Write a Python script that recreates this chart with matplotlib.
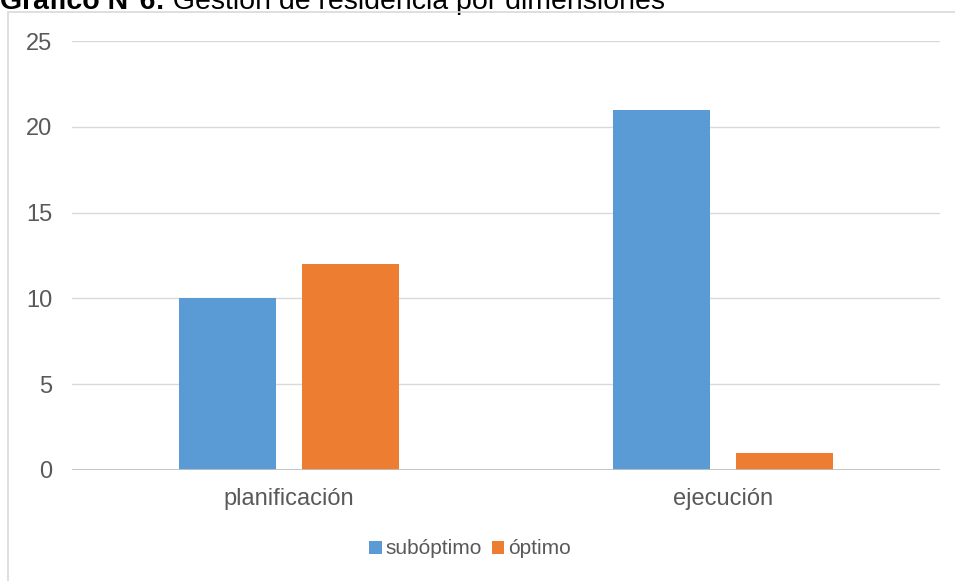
import matplotlib
matplotlib.use("Agg")
import matplotlib.pyplot as plt
from matplotlib.patches import Rectangle
import numpy as np

categories = ["planificación", "ejecución"]
series_names = ["subóptimo", "óptimo"]
suboptimo = [10, 21]
optimo = [12, 1]
y_ticks = [0, 5, 10, 15, 20, 25]

colors = ["#5B9BD5", "#ED7D31"]
text_grey = "#595959"

plt.rcParams["font.family"] = ["Liberation Sans", "DejaVu Sans"]

W, H = 955, 581
fig = plt.figure(figsize=(W / 100, H / 100), dpi=100)
fig.patch.set_facecolor("white")

# outer chart frame
frame = Rectangle((8 / W, -0.05), 1.2, (H - 12) / H + 0.05, transform=fig.transFigure,
                  fill=False, edgecolor="#d9d9d9", linewidth=1.2, zorder=0)
fig.patches.append(frame)

ax = fig.add_axes([72 / W, (H - 470) / H, (940 - 72) / W, (470 - 41) / H])
x = np.arange(len(categories))
width = 0.2235
gap = 0.06
off = width / 2 + gap / 2
ax.bar(x - off, suboptimo, width, color=colors[0], label=series_names[0], zorder=3)
ax.bar(x + off, optimo, width, color=colors[1], label=series_names[1], zorder=3)

ax.set_xlim(-0.5, 1.5)
ax.set_ylim(0, 25)
ax.set_yticks(y_ticks)
ax.set_yticklabels([str(v) for v in y_ticks])
ax.set_xticks(x)
ax.set_xticklabels(categories)
for s in ax.spines.values():
    s.set_visible(False)
ax.tick_params(axis="both", length=0, labelsize=17, labelcolor=text_grey)
ax.tick_params(axis="y", pad=14)
ax.tick_params(axis="x", pad=13)
for v in y_ticks[1:]:
    ax.axhline(v, color="#d9d9d9", linewidth=1, zorder=1)
ax.axhline(0, color="#bfbfbf", linewidth=1.3, zorder=4)

leg = ax.legend(loc="center", bbox_to_anchor=(470 / W, (H - 549) / H),
                bbox_transform=fig.transFigure, ncol=2, frameon=False,
                fontsize=15, handlelength=0.6, handleheight=0.6,
                handletextpad=0.2, columnspacing=0.45)
for t in leg.get_texts():
    t.set_color(text_grey)

# title: bold label followed by regular text
t1 = fig.text(0 / W, (H - 9) / H, "Gráfico N°6:", fontsize=20.5, fontweight="bold",
              color="black", va="baseline", ha="left")
ax.annotate(" Gestión de residencia por dimensiones", xy=(1, 0), xycoords=t1,
            va="bottom", ha="left", fontsize=20.5, color="black",
            annotation_clip=False)

fig.savefig("out.png", dpi=100)
